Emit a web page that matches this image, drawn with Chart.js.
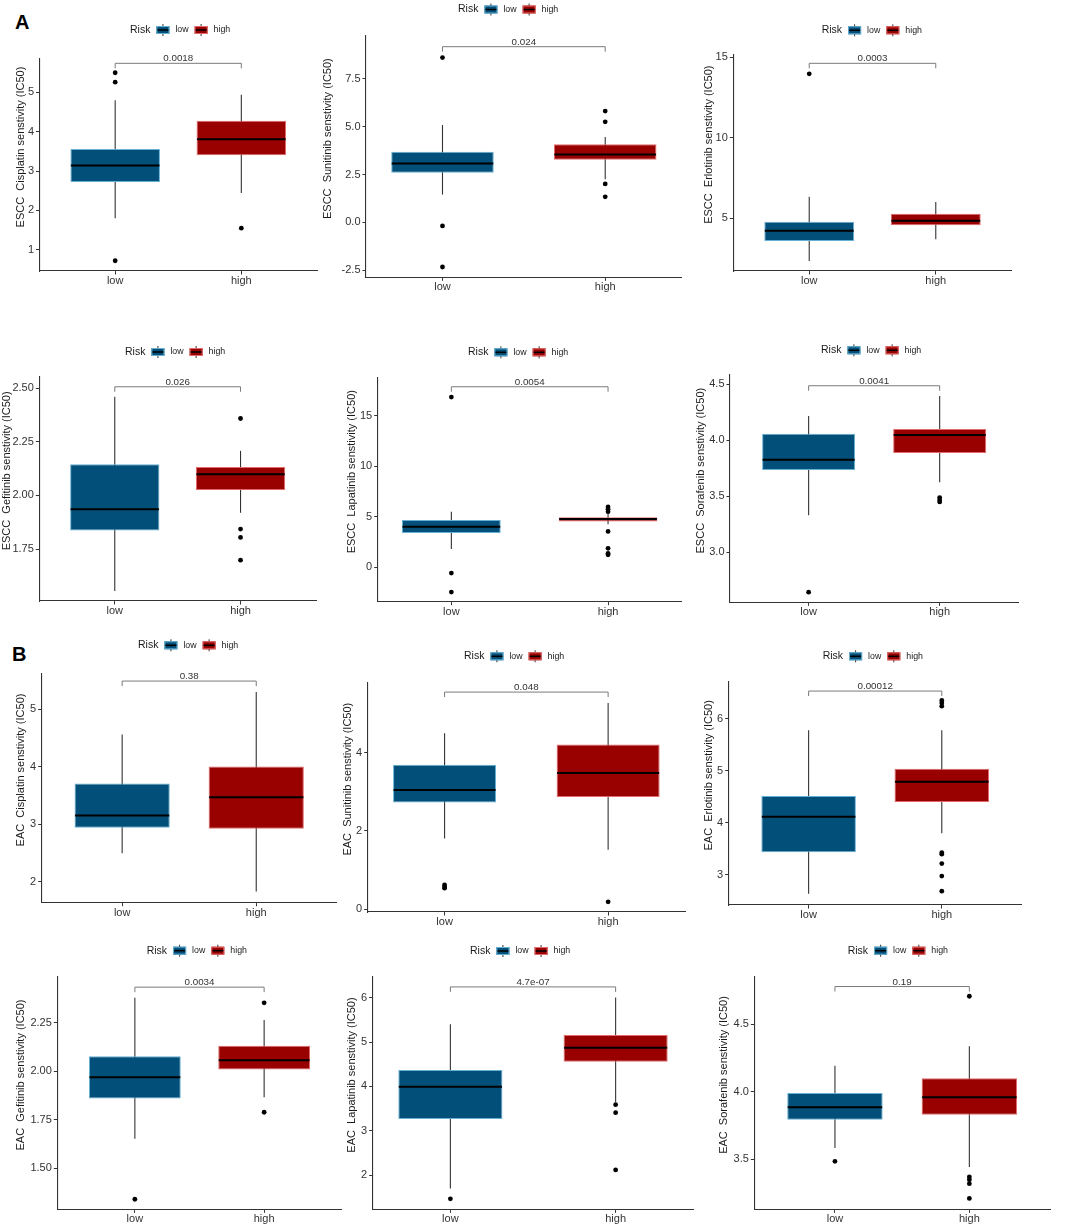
<!DOCTYPE html>
<html>
<head>
<meta charset="utf-8">
<script src="https://cdn.jsdelivr.net/npm/chart.js@4.4.1/dist/chart.umd.min.js"></script>
<style>
  body { margin: 0; background: #fff; }
  #fig { position: relative; width: 1065px; height: 1227px; overflow: hidden; background: #fff; }
  #fig canvas { position: absolute; }
  .tag { position: absolute; font: bold 20px 'Liberation Sans', Arial, sans-serif; line-height: 20px; color: #000; }
</style>
</head>
<body>
<div id="fig">
  <div class="tag" style="left:15px;top:12px">A</div>
  <div class="tag" style="left:12px;top:644px">B</div>
</div>
<script>
// groups on the x axis
const groups = ['low', 'high'];

// one entry per panel, row by row (ESCC first, then EAC)
const cohorts = ['ESCC', 'ESCC', 'ESCC', 'ESCC', 'ESCC', 'ESCC', 'EAC', 'EAC', 'EAC', 'EAC', 'EAC', 'EAC'];
const drugs = ['Cisplatin', 'Sunitinib', 'Erlotinib', 'Gefitinib', 'Lapatinib', 'Sorafenib',
               'Cisplatin', 'Sunitinib', 'Erlotinib', 'Gefitinib', 'Lapatinib', 'Sorafenib'];
const pValues = ['0.0018', '0.024', '0.0003', '0.026', '0.0054', '0.0041',
                 '0.38', '0.048', '0.00012', '0.0034', '4.7e-07', '0.19'];

// box stats: [lower whisker, q1, median, q3, upper whisker]
const lowStats = [
  [1.80, 2.72, 3.14, 3.56, 4.80],
  [1.45, 2.59, 3.08, 3.69, 5.09],
  [2.35, 3.59, 4.23, 4.79, 6.34],
  [1.554, 1.837, 1.936, 2.145, 2.46],
  [1.79, 3.38, 4.00, 4.67, 5.49],
  [3.33, 3.735, 3.827, 4.059, 4.217],
  [2.50, 2.94, 3.155, 3.71, 4.56],
  [1.81, 2.73, 3.05, 3.69, 4.50],
  [2.64, 3.436, 4.12, 4.516, 5.78],
  [1.651, 1.859, 1.969, 2.077, 2.379],
  [1.70, 3.264, 3.99, 4.367, 5.40],
  [3.582, 3.792, 3.884, 3.99, 4.193]
];
const highStats = [
  [2.44, 3.40, 3.81, 4.28, 4.94],
  [2.25, 3.27, 3.55, 4.08, 4.47],
  [3.70, 4.57, 4.85, 5.29, 6.01],
  [1.919, 2.025, 2.099, 2.133, 2.208],
  [4.25, 4.53, 4.77, 4.94, 5.30],
  [3.625, 3.887, 4.047, 4.10, 4.395],
  [1.835, 2.924, 3.47, 4.005, 5.30],
  [1.52, 2.87, 3.48, 4.21, 5.27],
  [3.80, 4.40, 4.79, 5.04, 5.78],
  [1.866, 2.009, 2.057, 2.131, 2.265],
  [3.65, 4.554, 4.87, 5.155, 6.00],
  [3.441, 3.829, 3.958, 4.10, 4.336]
];

// outlier points
const lowOutliers = [
  [5.50, 5.26, 0.72],
  [8.62, -0.19, -2.34],
  [13.98],
  [],
  [16.88, -0.60, -2.48],
  [2.643],
  [],
  [0.62, 0.57, 0.54],
  [],
  [1.339],
  [1.47],
  [3.483]
];
const highOutliers = [
  [1.55],
  [5.82, 5.26, 2.01, 1.33],
  [],
  [2.359, 1.843, 1.804, 1.698],
  [5.96, 5.75, 5.50, 3.54, 1.86, 1.36, 1.22],
  [3.488, 3.467, 3.449],
  [],
  [0.19],
  [6.35, 6.30, 6.24, 3.43, 3.40, 3.22, 2.98, 2.69],
  [2.353, 1.788],
  [3.59, 3.41, 2.12],
  [4.708, 3.367, 3.347, 3.317, 3.208]
];

// y axis ranges and tick labels
const yMin = [0.46, -2.88, 1.73, 1.5075, -3.44, 2.553, 1.64, -0.07, 2.424, 1.287, 1.234, 3.127];
const yMax = [5.85, 9.75, 15.19, 2.554, 18.8, 4.583, 5.625, 5.80, 6.71, 2.488, 6.47, 4.853];
const yTicks = [
  ['1', '2', '3', '4', '5'],
  ['-2.5', '0.0', '2.5', '5.0', '7.5'],
  ['5', '10', '15'],
  ['1.75', '2.00', '2.25', '2.50'],
  ['0', '5', '10', '15'],
  ['3.0', '3.5', '4.0', '4.5'],
  ['2', '3', '4', '5'],
  ['0', '2', '4'],
  ['3', '4', '5', '6'],
  ['1.50', '1.75', '2.00', '2.25'],
  ['2', '3', '4', '5', '6'],
  ['3.5', '4.0', '4.5']
];
// height of the p-value bracket, in data units
const bracketAt = [5.74, 9.19, 14.63, 2.507, 17.9, 4.487, 5.49, 5.55, 6.53, 2.434, 6.24, 4.78];

// page layout: axis x, axis top, axis right, axis bottom, y title x, legend x, legend y
const layout = [
  [39.5, 59, 317, 271, 20.7, 130, 30],
  [366, 36, 681.7, 277.3, 328.3, 458, 9.5],
  [733.3, 54.3, 1011.7, 271, 709, 821.7, 30.3],
  [39.3, 376.7, 316, 601, 6.5, 125, 352],
  [377.7, 377.7, 681.7, 601.7, 351.7, 468, 352.3],
  [730, 375, 1018.3, 602.3, 700.7, 821, 350.3],
  [41.7, 673.3, 336.7, 902.7, 21, 138, 645.3],
  [367.7, 682.3, 685, 912, 347.7, 464, 656.3],
  [728.7, 681.7, 1021.7, 905, 709, 822.7, 656.3],
  [57.3, 976.7, 341.7, 1209.3, 20.7, 146.7, 950.7],
  [372.7, 976.7, 693.3, 1209.3, 351.7, 470, 951],
  [754.3, 976.7, 1050, 1209.3, 724.3, 847.7, 950.7]
];
const xExpand = [0.6, 0.47, 0.6];   // per column
const boxWidth = [0.71, 0.63, 0.71]; // per column

const FONT = "'Liberation Sans', Arial, sans-serif";
const fillColors = ['#024f7a', '#990000'];
const edgeColors = ['#66b1d3', '#e26a6a'];

// whiskers, medians, bracket, y title and legend
const boxPlugin = {
  id: 'boxplot',
  beforeDatasetsDraw(chart, args, o) {
    const { ctx } = chart;
    const x = chart.scales.x, y = chart.scales.y;
    ctx.save();
    ctx.strokeStyle = '#333';
    ctx.lineWidth = 1.1;
    o.stats.forEach((s, g) => {
      const px = x.getPixelForValue(g + 1);
      ctx.beginPath();
      ctx.moveTo(px, y.getPixelForValue(s[0]));
      ctx.lineTo(px, y.getPixelForValue(s[4]));
      ctx.stroke();
    });
    ctx.restore();
  },
  afterDatasetsDraw(chart, args, o) {
    const { ctx, chartArea } = chart;
    const x = chart.scales.x, y = chart.scales.y;
    ctx.save();

    // medians
    chart.getDatasetMeta(0).data.forEach((bar, g) => {
      const py = y.getPixelForValue(o.stats[g][2]);
      ctx.strokeStyle = '#000';
      ctx.lineWidth = 2;
      ctx.beginPath();
      ctx.moveTo(bar.x - bar.width / 2 + 0.5, py);
      ctx.lineTo(bar.x + bar.width / 2 - 0.5, py);
      ctx.stroke();
    });

    // p-value bracket
    const x1 = x.getPixelForValue(1), x2 = x.getPixelForValue(2);
    const by = y.getPixelForValue(o.bracket);
    ctx.strokeStyle = '#7a7a7a';
    ctx.lineWidth = 1;
    ctx.beginPath();
    ctx.moveTo(x1, by + 5);
    ctx.lineTo(x1, by);
    ctx.lineTo(x2, by);
    ctx.lineTo(x2, by + 5);
    ctx.stroke();
    ctx.fillStyle = '#333';
    ctx.font = `9.8px ${FONT}`;
    ctx.textAlign = 'center';
    ctx.textBaseline = 'alphabetic';
    ctx.fillText(o.p, (x1 + x2) / 2, by - 2);

    // y axis title
    ctx.save();
    ctx.translate(o.titleX, (chartArea.top + chartArea.bottom) / 2 - 18);
    ctx.rotate(-Math.PI / 2);
    ctx.fillStyle = '#1a1a1a';
    ctx.font = `11px ${FONT}`;
    ctx.textAlign = 'center';
    ctx.textBaseline = 'middle';
    ctx.fillText(o.title, 0, 0);
    ctx.restore();

    // legend: Risk [box] low [box] high
    const ly = o.legendY;
    let cx = o.legendX;
    ctx.textAlign = 'left';
    ctx.textBaseline = 'middle';
    ctx.fillStyle = '#1a1a1a';
    ctx.font = `10.5px ${FONT}`;
    ctx.fillText('Risk', cx, ly);
    cx += ctx.measureText('Risk').width + 6;
    groups.forEach((g, k) => {
      ctx.strokeStyle = '#333';
      ctx.lineWidth = 1;
      ctx.beginPath();
      ctx.moveTo(cx + 6.5, ly - 6);
      ctx.lineTo(cx + 6.5, ly + 6);
      ctx.stroke();
      ctx.fillStyle = fillColors[k];
      ctx.fillRect(cx, ly - 4, 13, 8);
      ctx.strokeStyle = edgeColors[k];
      ctx.strokeRect(cx + 0.5, ly - 3.5, 12, 7);
      ctx.strokeStyle = '#000';
      ctx.lineWidth = 1.5;
      ctx.beginPath();
      ctx.moveTo(cx + 1, ly);
      ctx.lineTo(cx + 12, ly);
      ctx.stroke();
      cx += 13 + 6;
      ctx.fillStyle = '#1a1a1a';
      ctx.font = `8.8px ${FONT}`;
      ctx.fillText(g, cx, ly);
      cx += ctx.measureText(g).width + 6;
    });
    ctx.restore();
  }
};

const fig = document.getElementById('fig');

layout.forEach((L, i) => {
  const [ax, at, ar, ab, tx, lx, ly] = L;
  const col = i % 3;
  const left = Math.floor(tx - 9);
  const top = Math.floor(ly - 12);
  const w = Math.ceil(ar + 8 - left);
  const h = Math.ceil(ab + 24 - top);
  const yw = ax - left;
  const padTop = at - top;
  const padRight = w - (ar - left);
  const xh = h - (ab - top);

  const canvas = document.createElement('canvas');
  canvas.width = w;
  canvas.height = h;
  canvas.style.left = left + 'px';
  canvas.style.top = top + 'px';
  canvas.style.width = w + 'px';
  canvas.style.height = h + 'px';
  fig.appendChild(canvas);

  const stats = [lowStats[i], highStats[i]];
  const outliers = [lowOutliers[i], highOutliers[i]];
  const ticks = yTicks[i];

  const tickFont = { family: FONT, size: 11 };
  const gridOpts = { display: true, drawOnChartArea: false, drawTicks: true, tickLength: 3.5, color: '#333', lineWidth: 1, offset: false };
  const borderOpts = { display: true, color: '#333', width: 1.1 };

  new Chart(canvas, {
    type: 'bar',
    data: {
      datasets: [
        {
          data: stats.map((s, k) => ({ x: k + 1, y: [s[1], s[3]] })),
          backgroundColor: fillColors,
          borderColor: edgeColors,
          borderWidth: 1,
          borderSkipped: false,
          categoryPercentage: 1,
          barPercentage: boxWidth[col]
        },
        {
          type: 'scatter',
          data: outliers.flatMap((arr, k) => arr.map(v => ({ x: k + 1, y: v }))),
          pointRadius: 2.4,
          pointHoverRadius: 2.4,
          pointBackgroundColor: '#000',
          pointBorderWidth: 0,
          clip: false
        }
      ]
    },
    options: {
      responsive: false,
      animation: false,
      events: [],
      layout: { padding: { top: padTop, right: padRight, left: 0, bottom: 0 } },
      plugins: {
        legend: { display: false },
        tooltip: { enabled: false },
        boxplot: {
          stats,
          bracket: bracketAt[i],
          p: pValues[i],
          title: `${cohorts[i]}  ${drugs[i]} senstivity (IC50)`,
          titleX: tx - left,
          legendX: lx - left,
          legendY: ly - top
        }
      },
      scales: {
        x: {
          type: 'linear',
          min: 1 - xExpand[col],
          max: 2 + xExpand[col],
          offset: false,
          bounds: 'data',
          afterBuildTicks: s => { s.ticks = groups.map((g, k) => ({ value: k + 1 })); },
          afterFit: s => { s.height = xh; },
          ticks: {
            callback: v => groups[v - 1],
            font: tickFont,
            color: '#333',
            padding: 0,
            maxRotation: 0,
            autoSkip: false
          },
          grid: gridOpts,
          border: borderOpts
        },
        y: {
          type: 'linear',
          min: yMin[i],
          max: yMax[i],
          beginAtZero: false,
          bounds: 'data',
          afterBuildTicks: s => { s.ticks = ticks.map(t => ({ value: parseFloat(t) })); },
          afterFit: s => { s.width = yw; },
          ticks: {
            callback: (v, idx) => ticks[idx],
            font: tickFont,
            color: '#333',
            padding: 2,
            autoSkip: false
          },
          grid: gridOpts,
          border: borderOpts
        }
      }
    },
    plugins: [boxPlugin]
  });
});
</script>
</body>
</html>
